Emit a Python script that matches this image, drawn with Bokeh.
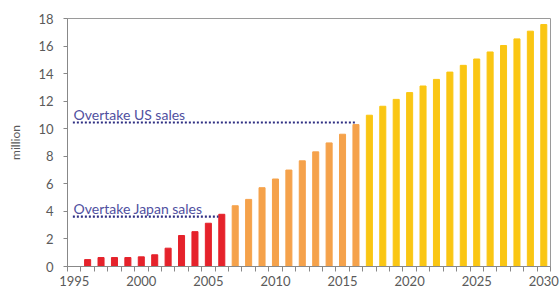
from bokeh.plotting import figure
from bokeh.models import ColumnDataSource, FixedTicker, Range1d
from bokeh.core.properties import value
from bokeh.embed import file_html
from bokeh.resources import INLINE

# ---- data ----
years = list(range(1996, 2031))
sales = [0.5, 0.65, 0.65, 0.65, 0.7, 0.85, 1.33, 2.25, 2.53, 3.14, 3.79,
         4.41, 4.87, 5.72, 6.35, 7.0, 7.67, 8.32, 8.97, 9.6, 10.3,
         10.98, 11.63, 12.13, 12.62, 13.1, 13.58, 14.11, 14.6, 15.06,
         15.57, 16.04, 16.52, 17.08, 17.56]
phase = ["actual"] * 11 + ["near"] * 10 + ["far"] * 14
phase_colors = {"actual": "#e5222b", "near": "#f5a24b", "far": "#fac613"}

milestone_labels = ["Overtake US sales", "Overtake Japan sales"]
milestone_levels = [10.45, 3.62]
milestone_years = [2016, 2006]

x_tick_labels = [1995, 2000, 2005, 2010, 2015, 2020, 2025, 2030]
y_ticks = [0, 2, 4, 6, 8, 10, 12, 14, 16, 18]

FONT = "Lato"
GREY = "#5a5a5a"

p = figure(width=560, height=288, output_backend="svg", toolbar_location=None,
           x_range=Range1d(1994.5, 2030.5), y_range=Range1d(0, 18))
p.min_border_left = 67
p.min_border_top = 18
p.min_border_right = 10
p.min_border_bottom = 0
p.xgrid.visible = False
p.ygrid.visible = False
p.outline_line_color = "#9a9a9a"
p.outline_line_width = 1
p.background_fill_color = "white"
p.border_fill_color = "white"

src = ColumnDataSource(dict(x=years, top=sales,
                            color=[phase_colors[ph] for ph in phase]))
p.vbar(x="x", top="top", width=0.45, color="color", source=src)

# milestone dotted lines and labels
line_start = 1994.9
for lab, lvl, yr, end_shift in zip(milestone_labels, milestone_levels,
                                   milestone_years, [0.0, -0.25]):
    p.line([line_start, yr + end_shift], [lvl, lvl], line_color="#2f2f82",
           line_width=2.2, line_dash="2 2")
text_src = ColumnDataSource(dict(x=[line_start + 0.05] * 2, y=milestone_levels,
                                 t=milestone_labels))
p.text(x="x", y="y", text="t", source=text_src, text_font=value(FONT),
       text_font_size="14px", text_color="#50509f", text_baseline="alphabetic",
       y_offset=-8.5)

# x axis
xa = p.xaxis[0]
xa.ticker = FixedTicker(ticks=x_tick_labels,
                        minor_ticks=[y + 0.5 for y in range(1994, 2031)])
xa.major_tick_out = 0
xa.major_tick_in = 0
xa.minor_tick_out = 5
xa.minor_tick_in = 0
xa.minor_tick_line_color = "#888888"
xa.axis_line_color = "#888888"
xa.major_label_standoff = 4
xa.major_label_text_font = FONT
xa.major_label_text_font_size = "13px"
xa.major_label_text_color = GREY

# y axis
ya = p.yaxis[0]
ya.ticker = FixedTicker(ticks=y_ticks)
ya.major_tick_out = 4
ya.major_tick_in = 0
ya.minor_tick_out = 0
ya.minor_tick_in = 0
ya.major_tick_line_color = "#888888"
ya.axis_line_color = "#888888"
ya.major_label_standoff = 10
ya.major_label_text_font = FONT
ya.major_label_text_font_size = "13px"
ya.major_label_text_color = GREY
ya.axis_label = "million"
ya.axis_label_text_font = FONT
ya.axis_label_text_font_size = "12px"
ya.axis_label_text_font_style = "normal"
ya.axis_label_text_color = GREY
ya.axis_label_standoff = 12

open("out.html", "w").write(file_html(p, INLINE))
